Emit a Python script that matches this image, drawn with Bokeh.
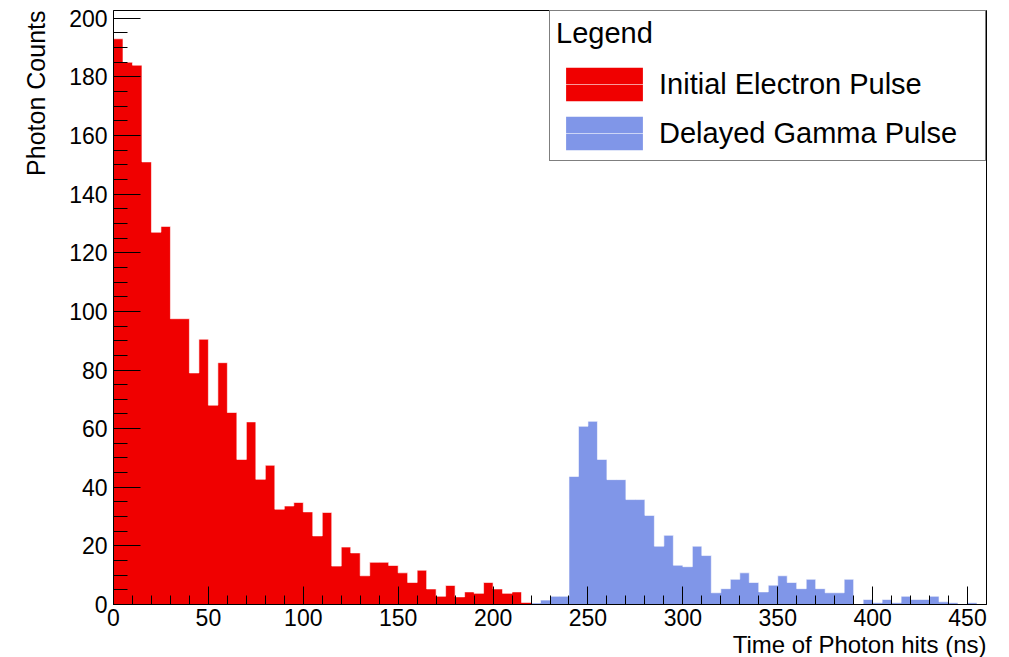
import numpy as np
from bokeh.plotting import figure
from bokeh.models import (ColumnDataSource, Range1d, SingleIntervalTicker, Title,
                          Legend, LegendItem)
from bokeh.embed import file_html
from bokeh.resources import INLINE

# Histogram binning (ns)
BIN_WIDTH = 5
X_MAX = 460
Y_MAX = 202.65

# Initial electron pulse: bins starting at 0 ns
electron_start = 0
electron_counts = [193, 185, 184, 151, 127, 129, 97.5, 97.5, 79, 90.5,
                   68, 82.5, 65.5, 49.5, 62.3, 42.7, 47.5, 32.5, 33.6, 34.8,
                   31.6, 23.4, 31.4, 13.1, 19.6, 17.6, 9.8, 14.4, 14.4, 13.3,
                   10.8, 7.5, 11.7, 5.3, 2.8, 6.5, 2.6, 4.3, 3.8, 7.5,
                   5.3, 3.8, 4.3, 0.7]

# Delayed gamma pulse: bins starting at 220 ns
gamma_start = 220
gamma_counts = [0.5, 1.5, 2.8, 2.8, 43.7, 60.8, 62.5, 49.5, 42.6, 42.6,
                35.8, 35.8, 30.4, 19.9, 23.6, 13.4, 12.9, 19.9, 16.7, 4.0,
                5.4, 8.6, 10.8, 7.5, 4.3, 6.6, 9.8, 7.5, 5.4, 8.6,
                5.4, 4.0, 4.0, 8.6, 0, 1.7, 0.6, 1.7, 0.6, 2.8,
                1.7, 1.7, 2.8, 0.9, 0.6, 0, 0.6, 0]

x_title = "Time of Photon hits (ns)"
y_title = "Photon Counts"

FONT = "Liberation Sans"
RED = "#f00000"
BLUE = "#8096e8"


def step_source(start, counts):
    n = len(counts)
    edges = start + BIN_WIDTH * np.arange(n + 1)
    vals = list(counts) + [counts[-1]]
    return ColumnDataSource(dict(x=edges, y=vals, base=np.zeros(n + 1)))


p = figure(width=1009, height=657, frame_width=873, frame_height=594,
           min_border_left=113, min_border_right=23, min_border_top=10,
           min_border_bottom=53, output_backend="svg", toolbar_location=None,
           x_range=Range1d(0, X_MAX), y_range=Range1d(0, Y_MAX))
p.background_fill_color = "white"
p.border_fill_color = "white"
p.outline_line_color = "black"
p.outline_line_width = 1
p.xgrid.visible = False
p.ygrid.visible = False

renderers = []
for start, counts, color in ((electron_start, electron_counts, RED),
                             (gamma_start, gamma_counts, BLUE)):
    src = step_source(start, counts)
    area = p.varea_step(x="x", y1="base", y2="y", step_mode="after", source=src,
                        fill_color=color, fill_alpha=1.0)
    edge = p.step(x="x", y="y", mode="after", source=src,
                  line_color="white", line_alpha=0.6, line_width=1)
    renderers.append((area, edge))

# Axes in the ROOT style: ticks pointing into the frame
for ax in (p.xaxis[0], p.yaxis[0]):
    ax.axis_line_color = "black"
    ax.major_tick_line_color = "black"
    ax.minor_tick_line_color = "black"
    ax.major_tick_out = 0
    ax.minor_tick_out = 0
    ax.major_label_text_font = FONT
    ax.major_label_text_font_size = "23px"
    ax.major_label_text_color = "black"

p.xaxis.ticker = SingleIntervalTicker(interval=50, num_minor_ticks=5)
p.xaxis.major_tick_in = 18
p.xaxis.minor_tick_in = 9
p.xaxis.major_label_standoff = 4

p.yaxis.ticker = SingleIntervalTicker(interval=20, num_minor_ticks=4)
p.yaxis.major_tick_in = 27
p.yaxis.minor_tick_in = 14
p.yaxis.major_label_standoff = 6

# Axis titles right-aligned to the far end of each axis
p.add_layout(Title(text=x_title, align="right", vertical_align="top",
                   text_font=FONT, text_font_size="24px",
                   text_font_style="normal", text_color="black",
                   standoff=4), "below")
p.add_layout(Title(text=y_title, align="right", vertical_align="bottom",
                   text_font=FONT, text_font_size="25px",
                   text_font_style="normal", text_color="black",
                   standoff=34), "left")

legend = Legend(
    items=[LegendItem(label="Initial Electron Pulse", renderers=list(renderers[0])),
           LegendItem(label="Delayed Gamma Pulse", renderers=list(renderers[1]))],
    location="top_right", title="Legend", margin=0, padding=6,
    glyph_width=96, glyph_height=42, spacing=7, label_standoff=7,
    label_width=320, label_height=42,
    label_text_font=FONT, label_text_font_size="29px", label_text_color="black",
    title_text_font=FONT, title_text_font_size="29px", title_text_font_style="normal",
    title_text_color="black", title_standoff=13,
    border_line_color="black", border_line_width=1,
    background_fill_color="white", background_fill_alpha=1.0)
p.add_layout(legend)

open("out.html", "w").write(file_html(p, INLINE))
